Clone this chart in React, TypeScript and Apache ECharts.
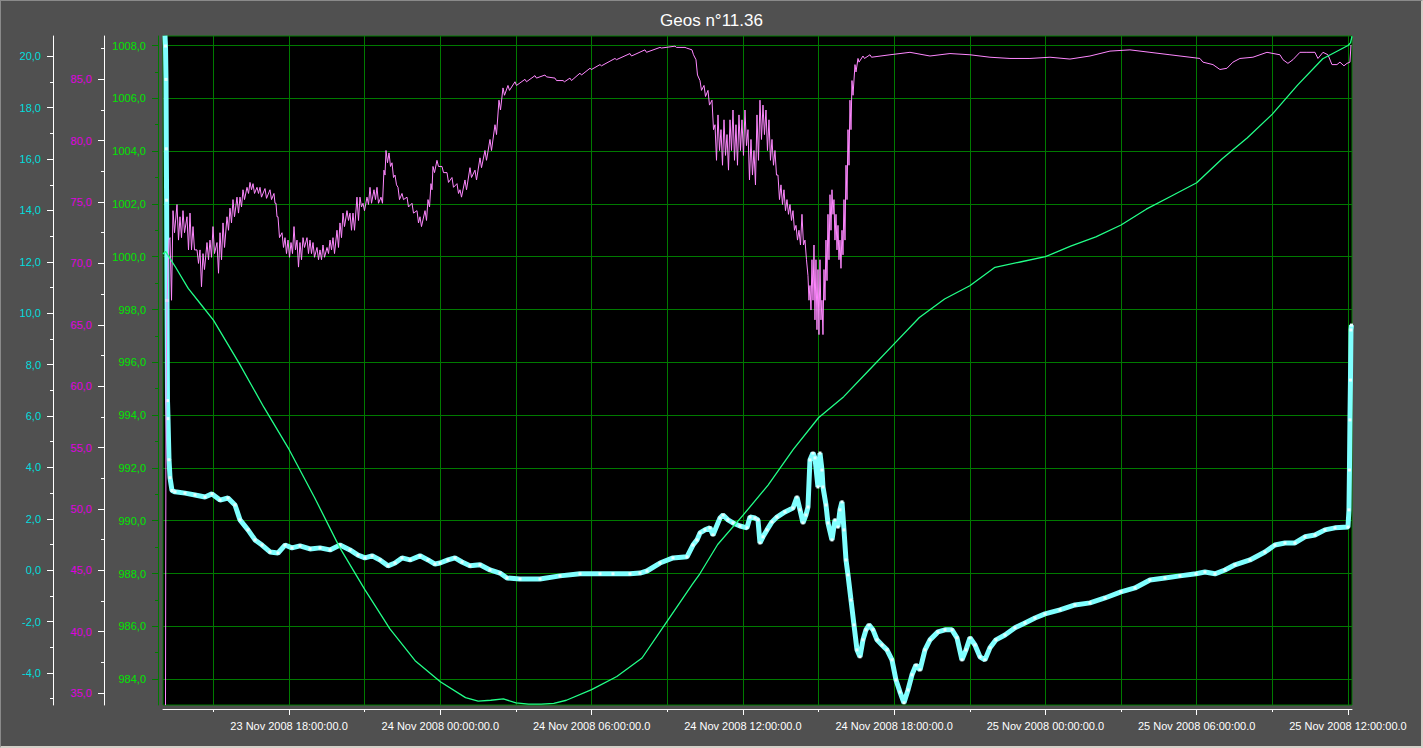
import React, { useEffect, useRef } from 'react';
import * as echarts from 'echarts';

const TITLE = 'Geos n°11.36';

// time in hours since 23 Nov 2008 00:00
const timeMajorTicks = [18, 24, 30, 36, 42, 48, 54, 60];
const timeMinorTicks = [15, 21, 27, 33, 39, 45, 51, 57];
const pressureTicks = [984, 986, 988, 990, 992, 994, 996, 998, 1000, 1002, 1004, 1006, 1008];
const pressureMinorTicks = [985, 987, 989, 991, 993, 995, 997, 999, 1001, 1003, 1005, 1007];
const humidityTicks = [35, 40, 45, 50, 55, 60, 65, 70, 75, 80, 85];
const humidityMinorTicks = [37.5, 42.5, 47.5, 52.5, 57.5, 62.5, 67.5, 72.5, 77.5, 82.5, 87.5];
const temperatureTicks = [-4, -2, 0, 2, 4, 6, 8, 10, 12, 14, 16, 18, 20];
const temperatureMinorTicks = [-5, -3, -1, 1, 3, 5, 7, 9, 11, 13, 15, 17, 19];

const X_MIN = 13.0, X_MAX = 60.16;
const P_MIN = 983.02, P_MAX = 1008.36;
const H_MIN = 34.02, H_MAX = 88.53;
const T_MIN = -5.245, T_MAX = 20.79;

const pressureData: [number, number][] = [
  [13.0, 1000.1], [13.1, 1000.2], [13.3, 999.9], [13.5, 999.6], [14, 998.8], [14.5, 998.2], [15, 997.6],
  [16, 996.0], [17, 994.3], [18, 992.7], [19, 990.9], [20, 989.0], [21, 987.4], [22, 985.9], [23, 984.7],
  [24, 983.9], [25, 983.3], [25.5, 983.17], [26, 983.2], [26.5, 983.25], [27, 983.1], [27.5, 983.05],
  [28, 983.05], [28.5, 983.08], [29, 983.2], [30, 983.6], [31, 984.1], [32, 984.8], [33, 986.2],
  [33.5, 986.9], [34, 987.6], [34.3, 988.0], [35, 989.1], [36, 990.2], [37, 991.35], [38, 992.7],
  [39, 993.9], [40, 994.7], [41, 995.7], [42, 996.7], [43, 997.7], [44, 998.4], [45, 998.9], [46, 999.6],
  [47, 999.8], [48, 1000.0], [49, 1000.4], [50, 1000.75], [51, 1001.2], [52, 1001.8], [53, 1002.3],
  [54, 1002.8], [55, 1003.7], [56, 1004.5], [57, 1005.4], [58, 1006.5], [59, 1007.5], [60, 1008.0],
  [60.1, 1008.1], [60.16, 1008.35],
];

const humidityData: [number, number][] = [
  [13.099, 34.0], [13.119, 58.9], [13.159, 67.0], [13.238, 71.9],
  [13.278, 72.1], [13.338, 67.0], [13.397, 74.3], [13.457, 72.5], [13.555, 74.8], [13.615, 71.9],
  [13.674, 73.8], [13.734, 72.1], [13.793, 74.3], [13.853, 72.5], [13.952, 73.8], [14.012, 71.1],
  [14.071, 74.1], [14.131, 71.1], [14.190, 73.0], [14.250, 71.1], [14.349, 71.1], [14.409, 70.0],
  [14.467, 71.1], [14.527, 68.1], [14.586, 70.8], [14.646, 69.5], [14.745, 71.7], [14.805, 70.3],
  [14.864, 71.9], [14.924, 70.5], [14.983, 73.0], [15.043, 70.8], [15.142, 71.7], [15.202, 69.2],
  [15.261, 72.5], [15.321, 70.3], [15.380, 73.3], [15.440, 71.3], [15.538, 73.8], [15.598, 72.7],
  [15.657, 74.5], [15.717, 73.3], [15.776, 75.2], [15.836, 73.8], [15.935, 75.4], [15.995, 74.1],
  [16.054, 75.4], [16.114, 74.6], [16.173, 76.0], [16.233, 75.2], [16.332, 76.2], [16.392, 75.7],
  [16.451, 76.6], [16.511, 76.0], [16.570, 76.5], [16.630, 75.7], [16.728, 76.2], [16.788, 75.7],
  [16.847, 76.2], [16.907, 75.4], [17.046, 76.1], [17.106, 75.3], [17.244, 76.0], [17.304, 75.2],
  [17.402, 75.7], [17.442, 74.9], [17.482, 74.9], [17.522, 73.8], [17.561, 73.8], [17.621, 72.1],
  [17.720, 72.5], [17.780, 71.3], [17.839, 72.1], [17.899, 70.8], [17.958, 71.9], [18.018, 70.5],
  [18.077, 71.7], [18.137, 70.8], [18.196, 73.0], [18.256, 71.1], [18.315, 71.9], [18.375, 69.7],
  [18.434, 71.7], [18.494, 70.3], [18.553, 72.1], [18.613, 71.3], [18.711, 72.1], [18.771, 70.8],
  [18.830, 71.9], [18.890, 70.8], [18.949, 71.7], [19.009, 70.5], [19.108, 71.3], [19.168, 70.3],
  [19.227, 71.1], [19.287, 70.3], [19.346, 71.5], [19.406, 70.5], [19.505, 71.3], [19.565, 70.8],
  [19.624, 71.9], [19.684, 71.1], [19.743, 72.1], [19.803, 70.8], [19.901, 72.7], [19.961, 71.3],
  [20.020, 73.3], [20.080, 72.1], [20.139, 74.1], [20.199, 73.0], [20.298, 74.3], [20.358, 73.5],
  [20.417, 74.1], [20.477, 72.7], [20.536, 74.1], [20.596, 72.7], [20.694, 75.4], [20.754, 73.5],
  [20.813, 75.4], [20.873, 74.6], [20.932, 74.9], [20.992, 74.3], [21.091, 75.4], [21.151, 74.8],
  [21.210, 76.2], [21.270, 74.9], [21.369, 76.0], [21.429, 75.2], [21.488, 76.2], [21.548, 74.9],
  [21.646, 75.4], [21.706, 74.9], [21.765, 77.6], [21.805, 77.2], [21.845, 79.2], [21.905, 78.2],
  [21.964, 79.0], [22.024, 77.9], [22.083, 78.2], [22.143, 77.0], [22.202, 77.2], [22.262, 76.4],
  [22.321, 76.2], [22.381, 75.2], [22.479, 75.7], [22.539, 75.2], [22.678, 75.4], [22.738, 74.6],
  [22.876, 74.9], [22.936, 74.1], [23.074, 74.3], [23.134, 73.3], [23.193, 73.8], [23.253, 73.0],
  [23.392, 74.3], [23.452, 73.5], [23.511, 75.2], [23.571, 74.6], [23.629, 76.5], [23.669, 76.0],
  [23.709, 77.9], [23.769, 77.4], [23.867, 78.4], [23.927, 77.9], [24.066, 77.9], [24.126, 77.4],
  [24.264, 77.4], [24.324, 76.6], [24.462, 77.0], [24.522, 76.2], [24.661, 76.5], [24.721, 75.7],
  [24.780, 76.0], [24.840, 75.4], [24.978, 76.8], [25.038, 76.0], [25.176, 77.8], [25.236, 77.0],
  [25.375, 77.6], [25.435, 76.8], [25.573, 78.6], [25.633, 77.8], [25.771, 79.2], [25.831, 78.4],
  [25.969, 80.1], [26.029, 79.2], [26.168, 81.3], [26.228, 80.5], [26.326, 83.3], [26.386, 82.5],
  [26.485, 84.3], [26.545, 83.7], [26.683, 84.5], [26.743, 84.1], [26.961, 84.8], [27.021, 84.5],
  [27.358, 85.0], [27.418, 84.8], [27.754, 85.3], [27.814, 85.1], [28.151, 85.35], [28.211, 85.2],
  [28.547, 85.1], [28.607, 84.9], [28.865, 84.9], [28.925, 84.8], [29.142, 85.1], [29.202, 84.9],
  [29.539, 85.5], [29.599, 85.35], [29.936, 85.9], [29.996, 85.8], [30.332, 86.2], [30.392, 86.1],
  [30.927, 86.7], [30.987, 86.6], [31.522, 87.1], [31.582, 86.9], [32.117, 87.4], [32.177, 87.2],
  [32.712, 87.6], [32.772, 87.55], [33.307, 87.7], [33.367, 87.6], [33.704, 87.6], [33.764, 87.55],
  [33.981, 87.4], [34.041, 87.0], [34.140, 86.6], [34.200, 85.35], [34.299, 84.9], [34.359, 84.1],
  [34.458, 84.5], [34.518, 83.6], [34.616, 84.1], [34.676, 82.9], [34.775, 83.3], [34.835, 80.9],
  [34.894, 81.3], [34.954, 78.4], [35.013, 82.1], [35.073, 79.2], [35.132, 80.9], [35.192, 78.0],
  [35.251, 81.7], [35.311, 78.8], [35.370, 80.5], [35.430, 77.6], [35.489, 81.7], [35.549, 79.2],
  [35.608, 82.5], [35.668, 78.4], [35.726, 81.3], [35.786, 78.0], [35.845, 82.1], [35.905, 79.2],
  [35.964, 81.7], [36.024, 78.8], [36.083, 82.5], [36.143, 79.6], [36.202, 80.9], [36.262, 76.8],
  [36.321, 80.1], [36.381, 77.2], [36.440, 79.2], [36.500, 76.4], [36.559, 82.1], [36.619, 78.4],
  [36.678, 83.3], [36.738, 80.1], [36.797, 82.9], [36.857, 80.5], [36.916, 82.5], [36.976, 79.2],
  [37.035, 81.7], [37.095, 78.4], [37.154, 80.1], [37.214, 78.0], [37.273, 79.2], [37.333, 77.2],
  [37.392, 77.2], [37.452, 75.2], [37.511, 76.4], [37.571, 74.8], [37.630, 76.0], [37.690, 74.3],
  [37.749, 75.2], [37.809, 74.0], [37.868, 74.8], [37.928, 73.5], [37.987, 74.3], [38.047, 72.7],
  [38.106, 73.1], [38.166, 71.9], [38.225, 72.7], [38.285, 71.5], [38.344, 74.0], [38.404, 71.5],
  [38.463, 71.9], [38.523, 70.3], [38.582, 69.0], [38.622, 67.0], [38.661, 68.2], [38.701, 66.2],
  [38.741, 70.3], [38.781, 67.0], [38.820, 71.5], [38.860, 65.4], [38.899, 70.3], [38.939, 64.6],
  [38.978, 69.5], [39.018, 64.2], [39.058, 70.3], [39.098, 65.4], [39.137, 67.0], [39.177, 64.2],
  [39.217, 69.5], [39.257, 67.0], [39.296, 71.9], [39.336, 68.6], [39.375, 74.0], [39.415, 70.3],
  [39.455, 75.6], [39.495, 72.7], [39.534, 76.0], [39.574, 74.0], [39.613, 75.2], [39.653, 71.9],
  [39.693, 74.0], [39.733, 71.1], [39.772, 73.1], [39.812, 70.3], [39.851, 71.9], [39.891, 69.6],
  [39.931, 72.7], [39.971, 70.7], [40.010, 75.2], [40.050, 71.9], [40.090, 78.0], [40.130, 75.2],
  [40.169, 80.9], [40.209, 78.0], [40.248, 83.3], [40.288, 80.9], [40.328, 84.9], [40.368, 83.7],
  [40.447, 86.2], [40.487, 85.6], [40.566, 86.7], [40.606, 86.4], [40.764, 86.9], [40.824, 86.7],
  [41.042, 87.0], [41.102, 86.8], [41.835, 87.0], [42.628, 87.2], [43.421, 86.9], [44.214, 87.1],
  [45.007, 87.0], [45.800, 86.8], [46.594, 86.7], [47.387, 86.7], [48.180, 86.8], [48.973, 86.65],
  [49.767, 86.9], [50.560, 87.3], [51.353, 87.4], [52.146, 87.2], [52.939, 87.0], [53.733, 86.8],
  [54.129, 86.7], [54.248, 86.4], [54.645, 86.2], [54.923, 85.8], [55.200, 85.9], [55.438, 86.4],
  [55.716, 86.7], [56.231, 86.8], [56.787, 87.2], [57.302, 87.0], [57.421, 86.6], [57.619, 86.3],
  [57.818, 86.6], [58.095, 87.2], [58.373, 87.2], [58.690, 87.2], [58.809, 86.7], [59.008, 87.2],
  [59.206, 87.0], [59.365, 86.2], [59.563, 86.2], [59.682, 86.4], [59.841, 86.1], [59.960, 86.3],
  [60.079, 86.4], [60.119, 87.8],
];

const temperatureData: [number, number][] = [
  [13.079, 20.8], [13.099, 20.4], [13.119, 19.1], [13.131, 16.4], [13.143, 14.4], [13.159, 10.5],
  [13.178, 6.6], [13.198, 5.9], [13.238, 4.3], [13.278, 3.6], [13.357, 3.1], [13.476, 3.05],
  [13.873, 3.0], [14.269, 2.93], [14.666, 2.85], [14.944, 2.97], [15.261, 2.73], [15.578, 2.81],
  [15.856, 2.54], [16.054, 1.96], [16.371, 1.57], [16.649, 1.18], [16.927, 0.98], [17.244, 0.71],
  [17.561, 0.67], [17.839, 0.98], [18.116, 0.87], [18.434, 0.95], [18.830, 0.83], [19.227, 0.87],
  [19.624, 0.79], [20.020, 0.98], [20.417, 0.79], [20.734, 0.59], [21.012, 0.48], [21.289, 0.56],
  [21.607, 0.40], [21.924, 0.17], [22.202, 0.28], [22.479, 0.48], [22.797, 0.40], [23.193, 0.56],
  [23.511, 0.40], [23.788, 0.24], [23.987, 0.28], [24.304, 0.40], [24.581, 0.48], [24.859, 0.32],
  [25.176, 0.17], [25.573, 0.21], [25.969, 0.01], [26.366, -0.11], [26.644, -0.30], [27.159, -0.34],
  [27.953, -0.34], [28.746, -0.22], [29.539, -0.14], [30.332, -0.14], [30.848, -0.14], [31.522, -0.14],
  [31.919, -0.11], [32.196, -0.03], [32.712, 0.28], [33.228, 0.48], [33.783, 0.52], [34.021, 0.98],
  [34.180, 1.18], [34.299, 1.45], [34.497, 1.57], [34.695, 1.65], [34.814, 1.37], [35.092, 2.03],
  [35.211, 2.15], [35.409, 1.96], [35.608, 1.84], [35.885, 1.72], [36.163, 1.65], [36.282, 2.07],
  [36.480, 2.03], [36.599, 1.96], [36.678, 1.06], [36.797, 1.30], [36.956, 1.57], [37.154, 1.88],
  [37.352, 2.07], [37.669, 2.27], [37.987, 2.42], [38.146, 2.85], [38.265, 2.35], [38.384, 1.84],
  [38.503, 2.15], [38.582, 2.46], [38.661, 4.29], [38.780, 4.56], [38.860, 4.37], [38.978, 3.24],
  [39.058, 4.56], [39.137, 3.90], [39.177, 3.24], [39.296, 2.54], [39.375, 1.84], [39.534, 1.18],
  [39.653, 1.96], [39.772, 1.68], [39.851, 2.35], [39.931, 2.66], [40.010, 1.57], [40.090, 0.40],
  [40.169, -0.18], [40.288, -1.16], [40.407, -2.13], [40.526, -3.10], [40.645, -3.37], [40.764, -2.71],
  [40.883, -2.32], [41.002, -2.13], [41.161, -2.32], [41.319, -2.71], [41.518, -2.91], [41.716, -3.10],
  [41.914, -3.49], [42.073, -4.27], [42.232, -4.74], [42.390, -5.16], [42.549, -4.66], [42.707, -4.07],
  [42.866, -3.69], [43.025, -3.88], [43.223, -3.10], [43.421, -2.71], [43.738, -2.40], [44.016, -2.32],
  [44.294, -2.32], [44.492, -2.63], [44.690, -3.49], [44.849, -3.10], [45.007, -2.63], [45.206, -2.91],
  [45.404, -3.37], [45.602, -3.49], [45.800, -3.02], [46.038, -2.71], [46.395, -2.52], [46.792, -2.24],
  [47.189, -2.05], [47.585, -1.86], [47.982, -1.70], [48.577, -1.54], [49.172, -1.35], [49.767, -1.27],
  [50.362, -1.08], [50.996, -0.84], [51.551, -0.69], [52.146, -0.38], [52.741, -0.30], [53.336, -0.22],
  [53.971, -0.14], [54.328, -0.07], [54.725, -0.14], [55.121, 0.01], [55.518, 0.21], [56.113, 0.40],
  [56.708, 0.71], [57.104, 0.98], [57.501, 1.06], [57.897, 1.06], [58.294, 1.30], [58.690, 1.37],
  [59.087, 1.57], [59.484, 1.65], [60.000, 1.68], [60.040, 2.35], [60.059, 3.90], [60.079, 5.85],
  [60.099, 7.40], [60.119, 9.35], [60.139, 9.54],
];

const FONT = '"Liberation Sans", Arial, sans-serif';
const GRID_GREEN = '#007a00';

const fmtComma = (v: number) => v.toFixed(1).replace('.', ',');
const fmtTime = (h: number) => {
  const day = 23 + Math.floor(h / 24);
  const hh = Math.round(h - Math.floor(h / 24) * 24);
  const p = hh < 10 ? '0' + hh : String(hh);
  return `${day} Nov 2008 ${p}:00:00.0`;
};

function yPair(min: number, max: number, offset: number, ticks: number[], minor: number[],
  lineColor: string, tickColor: string, labelColor: string, split: boolean) {
  return [
    {
      type: 'value', position: 'left', offset, min, max,
      axisLine: { show: true, onZero: false, lineStyle: { color: lineColor, width: 1 } },
      axisTick: { show: true, length: 6, customValues: ticks, lineStyle: { color: tickColor, width: 1 } },
      axisLabel: { show: true, customValues: ticks, color: labelColor, fontSize: 11, fontFamily: FONT, margin: 12, formatter: fmtComma },
      splitLine: { show: split, lineStyle: { color: GRID_GREEN, width: 1 } },
      minorTick: { show: false },
    },
    {
      type: 'value', position: 'left', offset, min, max,
      axisLine: { show: false, onZero: false },
      axisTick: { show: true, length: 3, customValues: minor, lineStyle: { color: tickColor, width: 1 } },
      axisLabel: { show: false },
      splitLine: { show: false },
    },
  ];
}

export default function App() {
  const ref = useRef<HTMLDivElement>(null);
  useEffect(() => {
    if (!ref.current) return;
    const chart = echarts.init(ref.current, undefined, { renderer: 'svg' });
    const pY = yPair(P_MIN, P_MAX, 5, pressureTicks, pressureMinorTicks, GRID_GREEN, GRID_GREEN, '#00e600', true);
    const hY = yPair(H_MIN, H_MAX, 59, humidityTicks, humidityMinorTicks, '#ffffff', '#ffffff', '#e000e0', false);
    const tY = yPair(T_MIN, T_MAX, 110, temperatureTicks, temperatureMinorTicks, '#ffffff', '#ffffff', '#00dede', false);
    chart.setOption({
      animation: false,
      backgroundColor: '#505050',
      title: {
        text: TITLE, left: 'center', top: 7,
        textStyle: { color: '#ffffff', fontSize: 17, fontWeight: 'normal', fontFamily: FONT },
      },
      grid: {
        left: 163, top: 36, width: 1189, height: 669, show: true,
        backgroundColor: '#000000', borderColor: GRID_GREEN, borderWidth: 1,
        outerBoundsMode: 'none', containLabel: false,
      },
      xAxis: [
        {
          type: 'value', min: X_MIN, max: X_MAX, position: 'bottom', offset: 4,
          axisLine: { show: true, onZero: false, lineStyle: { color: '#ffffff', width: 1 } },
          axisTick: { show: true, length: 6, customValues: timeMajorTicks, lineStyle: { color: '#ffffff' } },
          axisLabel: { show: true, customValues: timeMajorTicks, color: '#ffffff', fontSize: 11, fontFamily: FONT, margin: 11, formatter: fmtTime },
          splitLine: { show: true, lineStyle: { color: GRID_GREEN, width: 1 } },
        },
        {
          type: 'value', min: X_MIN, max: X_MAX, position: 'bottom', offset: 4,
          axisLine: { show: false, onZero: false },
          axisTick: { show: true, length: 3, customValues: timeMinorTicks, lineStyle: { color: '#ffffff' } },
          axisLabel: { show: false },
          splitLine: { show: true, lineStyle: { color: GRID_GREEN, width: 1 } },
        },
      ],
      yAxis: [pY[0], hY[0], tY[0], pY[1], hY[1], tY[1]],
      series: [
        {
          name: 'Température', type: 'line', xAxisIndex: 0, yAxisIndex: 2, data: temperatureData,
          showSymbol: true, symbol: 'rect', symbolSize: 3,
          itemStyle: { color: '#e6ffff' },
          lineStyle: { color: '#80ffff', width: 5 },
          emphasis: { disabled: true }, z: 2,
        },
        {
          name: 'Humidité', type: 'line', xAxisIndex: 0, yAxisIndex: 1, data: humidityData,
          showSymbol: false, lineStyle: { color: '#ff88ff', width: 1 },
          emphasis: { disabled: true }, z: 3,
        },
        {
          name: 'Pression', type: 'line', xAxisIndex: 0, yAxisIndex: 0, data: pressureData,
          showSymbol: false, lineStyle: { color: '#22ff88', width: 1.3 },
          emphasis: { disabled: true }, z: 4,
        },
      ],
    });
    return () => chart.dispose();
  }, []);
  return (
    <div style={{ position: 'fixed', left: 0, top: 0, width: 1423, height: 748 }}>
      <div ref={ref} style={{ position: 'absolute', left: 0, top: 0, width: 1423, height: 748 }} />
      <div style={{
        position: 'absolute', left: 0, top: 0, width: 1423, height: 748, boxSizing: 'border-box',
        borderTop: '1px solid #8a8a8a', borderLeft: '1px solid #8a8a8a',
        borderRight: '2px solid #d4d0c8', borderBottom: '2px solid #d4d0c8', pointerEvents: 'none',
      }} />
    </div>
  );
}
